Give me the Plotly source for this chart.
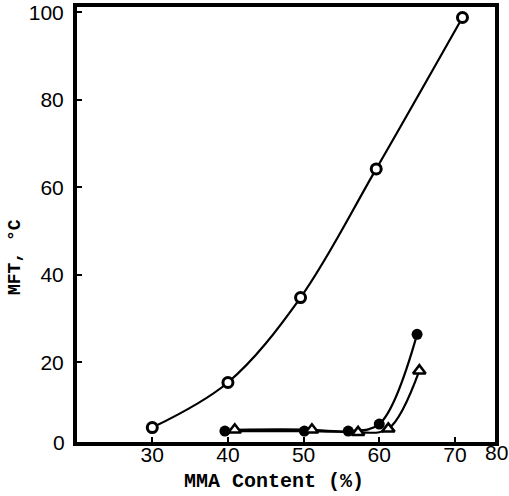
import plotly.graph_objects as go

# Data
open_x = [30, 40, 49.6, 59.6, 71.0]
open_y = [5.1, 15.4, 34.8, 64.2, 98.8]

filled_x = [39.6, 50.1, 55.9, 60.0, 65.0]
filled_y = [4.3, 4.3, 4.3, 5.9, 26.4]

tri_x = [40.9, 51.1, 57.2, 61.2, 65.3]
tri_y = [4.6, 4.6, 4.0, 4.8, 18.1]

x_ticks = [30, 40, 50, 60, 70]
y_ticks = [20, 40, 60, 80, 100]

fig = go.Figure()

fig.add_trace(go.Scatter(
    x=filled_x, y=filled_y, mode="lines+markers",
    line=dict(color="black", width=2.2, shape="spline"),
    marker=dict(symbol="circle", size=11, color="black"),
))
fig.add_trace(go.Scatter(
    x=tri_x, y=tri_y, mode="lines+markers",
    line=dict(color="black", width=2.2, shape="spline"),
    marker=dict(symbol="triangle-up", size=11, color="white",
                line=dict(color="black", width=2.5)),
))
fig.add_trace(go.Scatter(
    x=open_x, y=open_y, mode="lines+markers",
    line=dict(color="black", width=2.2, shape="spline"),
    marker=dict(symbol="circle", size=10, color="white",
                line=dict(color="black", width=3)),
))

tick_font = dict(family="Liberation Sans, Arial", size=21, color="black")
xtitle_font = dict(family="Liberation Mono, Courier New", size=20, color="black", weight="bold")
ytitle_font = dict(family="Liberation Mono, Courier New", size=18, color="black", weight="bold")

W = 418.0
H = 435.0

fig.update_layout(
    width=509, height=496,
    margin=dict(l=77, r=14, t=7, b=54, autoexpand=False),
    paper_bgcolor="white", plot_bgcolor="white",
    showlegend=False,
    xaxis=dict(
        range=[20.05, 75.3], tickvals=x_ticks, ticktext=[str(v) for v in x_ticks],
        ticks="inside", ticklen=5, tickwidth=2, tickcolor="black",
        ticklabelstandoff=-9, automargin=False,
        showline=True, linewidth=4, linecolor="black", mirror=True,
        showgrid=False, zeroline=False, tickfont=tick_font,
    ),
    yaxis=dict(
        range=[1.8, 101.2], tickvals=y_ticks, ticktext=[str(v) for v in y_ticks],
        ticks="inside", ticklen=5, tickwidth=2, tickcolor="black",
        ticklabelstandoff=5, automargin=False,
        showline=True, linewidth=4, linecolor="black", mirror=True,
        showgrid=False, zeroline=False, tickfont=tick_font,
    ),
    annotations=[
        dict(text="0", xref="paper", yref="paper", x=-(77 - 67) / W, y=0,
             xanchor="right", yanchor="middle", showarrow=False, font=tick_font),
        dict(text="80", xref="paper", yref="paper", x=(496 - 77) / W, y=-(452 - 442) / H,
             xanchor="center", yanchor="middle", showarrow=False, font=tick_font),
        dict(text="MMA Content (%)", xref="paper", yref="paper",
             x=(274 - 77) / W, y=-(482 - 442) / H,
             xanchor="center", yanchor="middle", showarrow=False, font=xtitle_font),
        dict(text="MFT, °C", xref="paper", yref="paper", textangle=-90,
             x=-(77 - 15) / W, y=(442 - 257) / H,
             xanchor="center", yanchor="middle", showarrow=False, font=ytitle_font),
    ],
)

fig.write_html("out.html")
